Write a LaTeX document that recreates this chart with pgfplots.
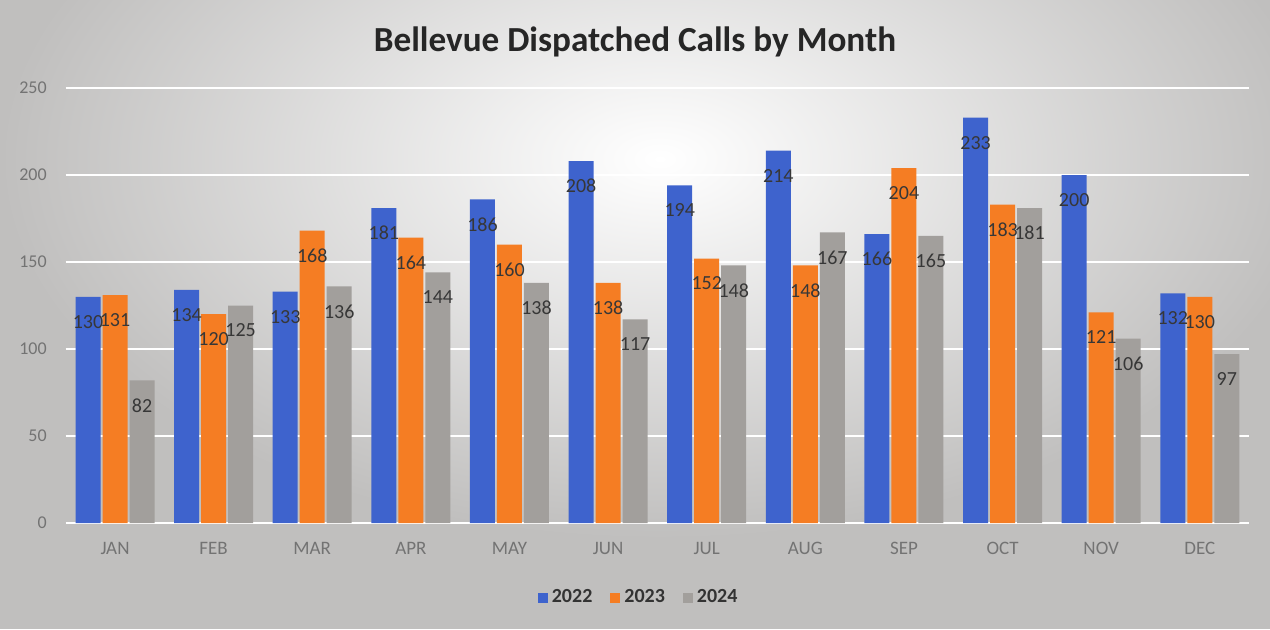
\documentclass[border=0pt]{standalone}
\usepackage{fontspec}
\setmainfont{Carlito}
\usepackage{pgfplots}
\pgfplotsset{compat=1.18}
\definecolor{cBlue}{RGB}{62,99,205}
\definecolor{cOrange}{RGB}{245,125,35}
\definecolor{cGray}{RGB}{162,159,156}
\definecolor{bgGray}{RGB}{192,191,190}
\definecolor{tickGray}{RGB}{115,115,115}
\definecolor{lblGray}{RGB}{55,55,55}
\begin{document}
\begin{tikzpicture}
\begin{scope}
\clip (0,0) rectangle (635pt,314.5pt);
\fill[bgGray] (0,0) rectangle (635pt,314.5pt);
\shade[inner color=white, outer color=bgGray] (330pt,235pt) ellipse (330pt and 190pt);
\end{scope}
\begin{axis}[
  at={(32.85pt,53pt)}, anchor=south west,
  scale only axis, width=591.7pt, height=217.5pt,
  ymin=0, ymax=250, xmin=-0.5, xmax=11.5,
  ybar=1pt, bar width=12.5pt,
  axis line style={draw=none},
  major tick length=0pt,
  ymajorgrids, grid style={white, line width=0.9pt},
  ytick={0,50,...,250},
  xtick={0,...,11},
  xticklabels={JAN,FEB,MAR,APR,MAY,JUN,JUL,AUG,SEP,OCT,NOV,DEC},
  /pgf/number format/assume math mode=true,
  yticklabel style={font=\fontsize{9}{11}\selectfont, text=tickGray, anchor=east, xshift=-6pt},
  xticklabel style={font=\fontsize{9.5}{11}\selectfont, text=tickGray, anchor=north, yshift=-6pt},
  nodes near coords,
  every node near coord/.append style={font=\fontsize{10}{12}\selectfont, text=lblGray, anchor=center, yshift=-12.5pt},
  title={Bellevue Dispatched Calls by Month},
  every axis title shift=0pt,
  title style={at={(0.481,1.106)}, anchor=center, font=\fontsize{17.6}{20}\selectfont\bfseries, text=black!85},
  legend style={at={(0.485,-0.172)}, anchor=center, draw=none, fill=none, legend columns=-1,
    font=\fontsize{10}{12}\selectfont\bfseries, text=black!80,
    /tikz/every even column/.append style={column sep=7pt}},
  legend image code/.code={\fill[#1] (0pt,-2.5pt) rectangle (5pt,2.5pt);},
]
\addplot[fill=cBlue, draw=none] coordinates {(0,130) (1,134) (2,133) (3,181) (4,186) (5,208) (6,194) (7,214) (8,166) (9,233) (10,200) (11,132)};
\addplot[fill=cOrange, draw=none] coordinates {(0,131) (1,120) (2,168) (3,164) (4,160) (5,138) (6,152) (7,148) (8,204) (9,183) (10,121) (11,130)};
\addplot[fill=cGray, draw=none] coordinates {(0,82) (1,125) (2,136) (3,144) (4,138) (5,117) (6,148) (7,167) (8,165) (9,181) (10,106) (11,97)};
\legend{2022,2023,2024}
\end{axis}
\end{tikzpicture}
\end{document}
